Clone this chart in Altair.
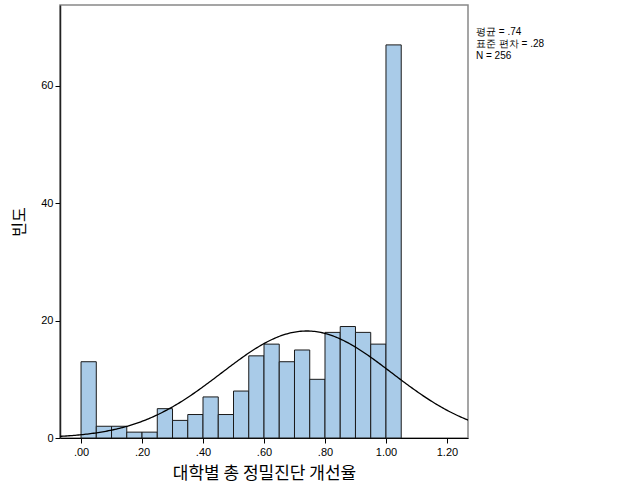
import altair as alt
import pandas as pd

bin_starts = [0.00, 0.05, 0.10, 0.15, 0.20, 0.25, 0.30, 0.35, 0.40, 0.45, 0.50,
              0.55, 0.60, 0.65, 0.70, 0.75, 0.80, 0.85, 0.90, 0.95, 1.00]
counts = [13, 2, 2, 1, 1, 5, 3, 4, 7, 4, 8, 14, 16, 13, 15, 10, 18, 19, 18, 16, 67]
bin_width = 0.05
mean_val = 0.74
sd_val = 0.28
n_val = 256
stats_lines = ["평균 = .74", "표준 편차 = .28", "N = 256"]
x_ticks = [0.0, 0.2, 0.4, 0.6, 0.8, 1.0, 1.2]
y_ticks = [0, 20, 40, 60]

x_dom = [-0.069, 1.269]
y_dom = [0, 73.8]

W, H = 408, 433
FONT = "Liberation Sans"
KFONT = "Noto Sans CJK KR"

bars_df = pd.DataFrame({
    "start": bin_starts,
    "end": [b + bin_width for b in bin_starts],
    "count": counts,
})

xscale = alt.Scale(domain=x_dom, nice=False, zero=False)
yscale = alt.Scale(domain=y_dom, nice=False, zero=False)

label_expr = "datum.value < 1 ? substring(format(datum.value, '.2f'), 1) : format(datum.value, '.2f')"

bars = alt.Chart(bars_df).mark_rect(
    fill="#a9cbe8", stroke="#1a1a1a", strokeWidth=1
).encode(
    x=alt.X("start:Q", scale=xscale,
            axis=alt.Axis(values=x_ticks, labelExpr=label_expr, title="대학별 총 정밀진단 개선율",
                          titleFont=KFONT, titleFontSize=17, titleFontWeight="normal",
                          titleColor="#000", titlePadding=8,
                          labelFont=FONT, labelFontSize=11, labelColor="#000",
                          tickColor="#000", tickSize=5, domainColor="#000", grid=False,
                          labelPadding=3)),
    x2="end:Q",
    y=alt.Y("count:Q", scale=yscale,
            axis=alt.Axis(values=y_ticks, title="빈도", titleFont=KFONT, titleFontSize=16,
                          titleFontWeight="normal", titleColor="#000", titlePadding=13,
                          labelFont=FONT, labelFontSize=11, labelColor="#000",
                          tickColor="#000", tickSize=5, domainColor="#222", domainWidth=1.5,
                          grid=False, labelPadding=2)),
    y2=alt.datum(0),
)

curve = alt.Chart(alt.sequence(start=x_dom[0], stop=x_dom[1] + 0.005, step=0.005, as_="x")).transform_calculate(
    count=f"{n_val} * {bin_width} / ({sd_val} * sqrt(2 * PI)) * exp(-0.5 * pow((datum.x - {mean_val}) / {sd_val}, 2))"
).mark_line(color="#000", strokeWidth=1.3, clip=True).encode(
    x=alt.X("x:Q", scale=xscale),
    y=alt.Y("count:Q", scale=yscale),
)

stat_layers = []
for i, line in enumerate(stats_lines):
    stat_layers.append(
        alt.Chart(pd.DataFrame({"t": [line]})).mark_text(
            align="left", baseline="middle", font=FONT, fontSize=10, color="#000"
        ).encode(
            x=alt.value(W + 8),
            y=alt.value(26.5 + 12 * i),
            text="t:N",
        )
    )

chart = alt.layer(bars, curve, *stat_layers).properties(
    width=W, height=H,
    autosize=alt.AutoSizeParams(type="none"),
    padding={"left": 60, "top": 5, "right": 158, "bottom": 63},
    background="white",
).configure_view(stroke="#888", strokeWidth=1.5)

chart.save("out.html", embed_options={"renderer": "svg", "actions": False})
